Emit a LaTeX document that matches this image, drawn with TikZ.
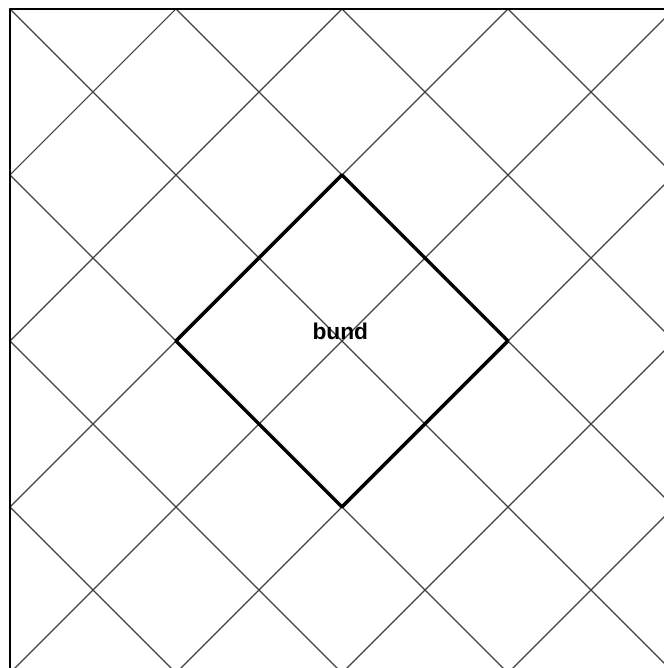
\documentclass[tikz,border=0pt]{standalone}
\usepackage{fontspec}
\setmainfont{Liberation Sans}
\usetikzlibrary{calc, positioning}
\definecolor{ink}{HTML}{000000}
\tikzset{el/.style={line cap=round, line join=round},
  gridline/.style={ink!75, line width=0.4pt},
  bundline/.style={ink, line width=1.2pt},
  bundlabel/.style={font=\fontsize{7.8}{9}\selectfont\bfseries, inner sep=0pt}}

\begin{document}
\begin{tikzpicture}[el]
  \useasboundingbox (-0.12,-7.94) rectangle (7.868,0.108);
  \begin{scope}\clip (0,-8) rectangle (8,0);
     \foreach \c in {-8,-6,...,8}{\draw[gridline] (\c-9,9) -- (\c+9,-9);}
     \foreach \c in {0,2,...,16}{\draw[gridline] (\c-9,-9) -- (\c+9,9);}
  \end{scope}
  \draw[ink, line width=0.8pt] (0,-8) rectangle (8,0);
  \coordinate (top) at (4,-2);
  \coordinate (right) at (6,-4);
  \coordinate (bottom) at (4,-6);
  \coordinate (left) at (2,-4);
  \draw[bundline] (top) -- (right) -- (bottom) -- (left) -- cycle;
  \node[bundlabel] (bund) at (3.98,-3.88) {bund};
\end{tikzpicture}
\end{document}
